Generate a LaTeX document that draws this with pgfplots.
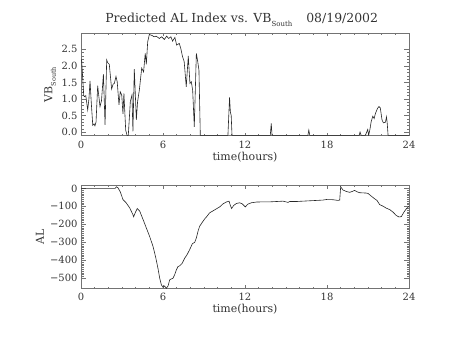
\documentclass[border=0pt]{standalone}
\usepackage{pgfplots}
\pgfplotsset{compat=1.18}
\usepackage{fontspec}
\setmainfont{DejaVu Serif}
\definecolor{axgray}{gray}{0.45}
\definecolor{txt}{gray}{0.2}

\pgfplotstableread{
t v
0.0 2.2
0.05 2.15
0.2 1.1
0.25 1.07
0.35 1.1
0.49 0.67
0.58 1.0
0.66 1.55
0.75 0.9
0.86 0.21
0.95 0.25
1.02 0.19
1.1 0.3
1.22 1.40
1.3 1.1
1.39 0.77
1.5 0.95
1.64 1.75
1.76 0.22
1.88 2.18
1.95 2.1
2.07 2.05
2.24 1.30
2.35 1.45
2.44 1.47
2.56 1.68
2.65 1.52
2.78 0.82
2.87 1.22
2.98 1.12
3.07 0.55
3.14 1.17
3.27 0.06
3.37 -0.1
3.46 -0.1
3.61 0.92
3.73 1.12
3.80 0.02
3.90 1.9
4.05 0.37
4.14 0.92
4.27 1.27
4.44 1.93
4.58 1.82
4.70 2.38
4.78 2.05
4.88 2.73
5.0 2.95
5.2 2.92
5.35 2.88
5.5 2.9
5.73 2.83
5.9 2.88
6.1 2.8
6.27 2.9
6.41 2.83
6.58 2.88
6.7 2.75
6.87 2.86
7.0 2.63
7.19 2.68
7.3 2.53
7.43 2.28
7.55 2.13
7.7 1.37
7.85 2.3
7.97 1.47
8.07 1.52
8.17 1.27
8.29 0.16
8.44 2.38
8.54 2.13
8.63 1.87
8.73 -0.1
10.75 -0.1
10.87 1.05
10.93 0.6
10.99 0.5
11.05 -0.1
13.85 -0.1
13.92 0.26
13.98 -0.1
16.6 -0.1
16.67 0.06
16.74 -0.1
20.35 -0.1
20.42 0.0
20.5 -0.1
20.8 -0.1
20.86 -0.05
20.98 0.08
21.05 -0.1
21.15 0.1
21.23 0.31
21.35 0.48
21.45 0.41
21.55 0.57
21.7 0.72
21.8 0.77
21.9 0.73
22.03 0.36
22.13 0.28
22.28 0.3
22.35 0.46
22.4 0.3
22.47 -0.1
24 -0.1
}\vbtable

\pgfplotstableread{
t al
0 0
2.5 0
2.59 9
2.7 4
2.88 -20
3.07 -62
3.3 -80
3.56 -108
3.8 -146
3.85 -158
4.0 -130
4.12 -112
4.3 -127
4.54 -173
4.78 -220
5.02 -267
5.27 -323
5.46 -382
5.63 -444
5.76 -500
5.88 -537
6.0 -550
6.12 -543
6.24 -556
6.37 -543
6.49 -509
6.6 -504
6.73 -500
6.85 -481
6.98 -453
7.1 -435
7.22 -431
7.41 -416
7.59 -388
7.76 -369
7.95 -341
8.15 -308
8.32 -300
8.44 -276
8.56 -239
8.68 -211
8.88 -188
9.05 -170
9.22 -155
9.41 -136
9.66 -125
9.9 -114
10.15 -103
10.39 -86
10.63 -76
10.83 -71
10.93 -95
11.02 -112
11.17 -95
11.37 -84
11.6 -80
11.8 -86
12.02 -103
12.2 -88
12.46 -80
12.83 -76
13.3 -75
13.8 -75
14.3 -73
14.78 -71
15.0 -75
15.15 -78
15.27 -73
15.76 -73
16.24 -71
16.73 -69
17.22 -67
17.7 -65
17.95 -62
18.44 -63
18.8 -67
18.93 -65
19.0 9
19.17 -9
19.41 -17
19.66 -22
19.85 -17
20.02 -11
20.2 -19
20.39 -24
20.88 -26
21.0 -28
21.24 -43
21.49 -58
21.66 -67
21.85 -90
22.1 -99
22.34 -110
22.59 -118
22.83 -132
23.07 -151
23.27 -159
23.44 -157
23.63 -132
23.8 -114
23.95 -103
24.0 -100
}\altable

\pgfplotsset{
  idl/.style={
    scale only axis,
    width=328bp,
    anchor=south west,
    axis line style={axgray, line width=0.5bp},
    tick style={axgray, line width=0.5bp},
    xmin=0, xmax=24,
    xtick={0,6,12,18,24},
    xticklabels={0,6,12,18,24},
    minor x tick num=5,
    tick align=inside,
    ticklabel style={font=\fontsize{10}{11}\selectfont, text=txt},
    label style={font=\fontsize{11}{13}\selectfont, text=txt},
    xticklabel style={anchor=center, yshift=-9.5bp},
    major tick length=5bp,
    minor tick length=2.5bp,
    xtick style={/pgfplots/major tick length=3bp,/pgfplots/minor tick length=1.5bp},
    xlabel={time(hours)},
  }
}

\begin{document}
\begin{tikzpicture}
\useasboundingbox (0,0) rectangle (453bp,340bp);

\begin{axis}[idl,
  at={(81bp,204.3bp)},
  height=102.2bp,
  ymin=-0.11, ymax=2.98,
  ytick={0,0.5,1,1.5,2,2.5},
  yticklabels={0.0,0.5,1.0,1.5,2.0,2.5},
  minor y tick num=4,
  xlabel style={at={(axis description cs:0.5,-0.21)}, anchor=center},
  ylabel={VB\raisebox{-3.5bp}{\fontsize{6.5}{7}\selectfont South}},
  ylabel style={at={(axis description cs:-0.094,0.5)}, anchor=center},
  title={Predicted AL Index vs. VB\raisebox{-4bp}{\fontsize{7}{8}\selectfont South}\hspace{14bp}08/19/2002},
  title style={at={(axis description cs:0.49,1)}, anchor=base, yshift=5bp, font=\fontsize{12.5}{14}\selectfont, text=txt},
]
\addplot[black!85, line width=0.6bp] table[x=t,y=v] {\vbtable};
\end{axis}

\begin{axis}[idl,
  at={(81bp,51.7bp)},
  height=102.6bp,
  ymin=-556, ymax=15,
  ytick={0,-100,-200,-300,-400,-500},
  yticklabels={0,−100,−200,−300,−400,−500},
  minor y tick num=9,
  xticklabel style={yshift=0.5bp},
  xlabel style={at={(axis description cs:0.5,-0.205)}, anchor=center},
  ylabel={AL},
  ylabel style={at={(axis description cs:-0.125,0.5)}, anchor=center},
]
\addplot[black!85, line width=0.6bp] table[x=t,y=al] {\altable};
\end{axis}
\end{tikzpicture}
\end{document}
